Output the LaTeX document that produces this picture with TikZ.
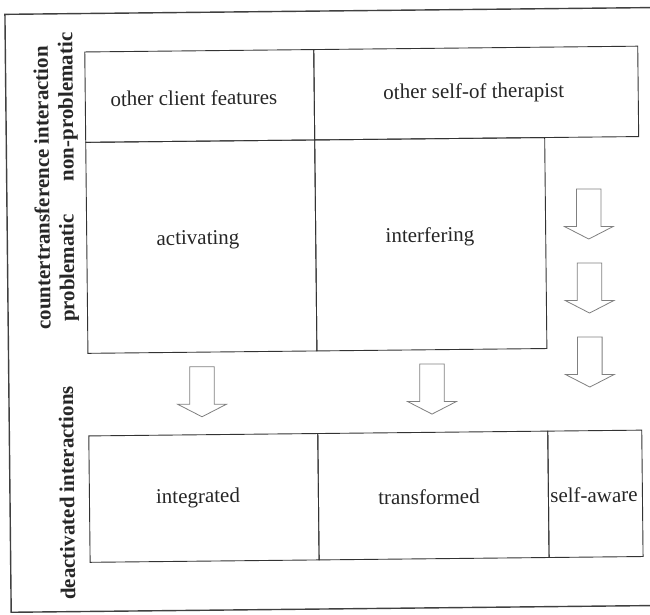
\documentclass[tikz,border=0pt]{standalone}
\usepackage{fontspec}
\setmainfont{Liberation Serif}
\definecolor{textc}{gray}{0.15}
\definecolor{linec}{gray}{0.2}
\definecolor{arrowc}{gray}{0.5}
\definecolor{framec}{gray}{0.25}
\begin{document}
\begin{tikzpicture}[x=1pt,y=-1pt,
  cell/.style={draw=linec, line width=0.9pt, inner sep=0pt, anchor=north west, transform shape},
  txt/.style={font=\fontsize{21}{25}\selectfont, text=textc, inner sep=0pt, transform shape},
  side/.style={font=\fontsize{21}{25}\selectfont\bfseries, text=textc, rotate=90, inner sep=0pt, transform shape},
  arrowline/.style={draw=arrowc, line width=0.8pt, fill=white, line join=miter},
  blockarrow/.pic={\draw[arrowline] (-12.3,0) -- (12.3,0) -- (12.3,37.5) -- (24.3,37.5) -- (0,50) -- (-24.3,37.5) -- (-12.3,37.5) -- cycle;}]
\useasboundingbox (0,0) rectangle (650,615);
\clip (0,0) rectangle (650,615);
\fill[white] (0,0) rectangle (650,615);
\begin{scope}[rotate around={0.6:(325,307)}]
  % outer frame
  \coordinate (fTR) at (700,11);
  \coordinate (fTL) at (8,11);
  \coordinate (fBL) at (8,609);
  \coordinate (fBR) at (700,609);
  \draw[framec, line width=1.4pt] (fTR) -- (fTL) -- (fBL) -- (fBR);
  % top row
  \node[cell, minimum width=229pt, minimum height=90.4pt] (ocf) at (87,49) {};
  \node[cell, minimum width=324pt, minimum height=90.4pt] (ost) at (316,49) {};
  % middle row
  \node[cell, minimum width=229pt, minimum height=211pt] (act) at (87,139.4) {};
  \node[cell, minimum width=230pt, minimum height=211pt] (intf) at (316,139.4) {};
  % bottom row
  \node[cell, minimum width=229pt, minimum height=126.4pt] (integ) at (87,433) {};
  \node[cell, minimum width=230pt, minimum height=126.4pt] (transf) at (316,433) {};
  \node[cell, minimum width=94pt, minimum height=126.4pt] (selfaw) at (546,433) {};
  % cell texts
  \node[txt] (tocf) at (196,96.6) {other client features};
  \node[txt] (tost) at (476,94.6) {other self-of therapist};
  \node[txt] (tact) at (198.7,238.7) {activating};
  \node[txt] (tintf) at (430.7,238.1) {interfering};
  \node[txt] (tinteg) at (196,496.7) {integrated};
  \node[txt] (ttransf) at (427,498) {transformed};
  \node[txt] (tselfaw) at (592,497.8) {self-aware};
  % side labels
  \node[side] (lct) at (43.2,185) {countertransference interaction};
  \node[side] (lnp) at (70,104.3) {non-problematic};
  \node[side] (lpr) at (69.4,265.3) {problematic};
  \node[side] (lde) at (65,490.3) {deactivated interactions};
  % block arrows
  \pic at (590,191.8) {blockarrow};
  \pic at (590,265.8) {blockarrow};
  \pic at (589.5,339.8) {blockarrow};
  \pic at (201.4,365.5) {blockarrow};
  \pic at (431.4,365.2) {blockarrow};
\end{scope}
\end{tikzpicture}
\end{document}
